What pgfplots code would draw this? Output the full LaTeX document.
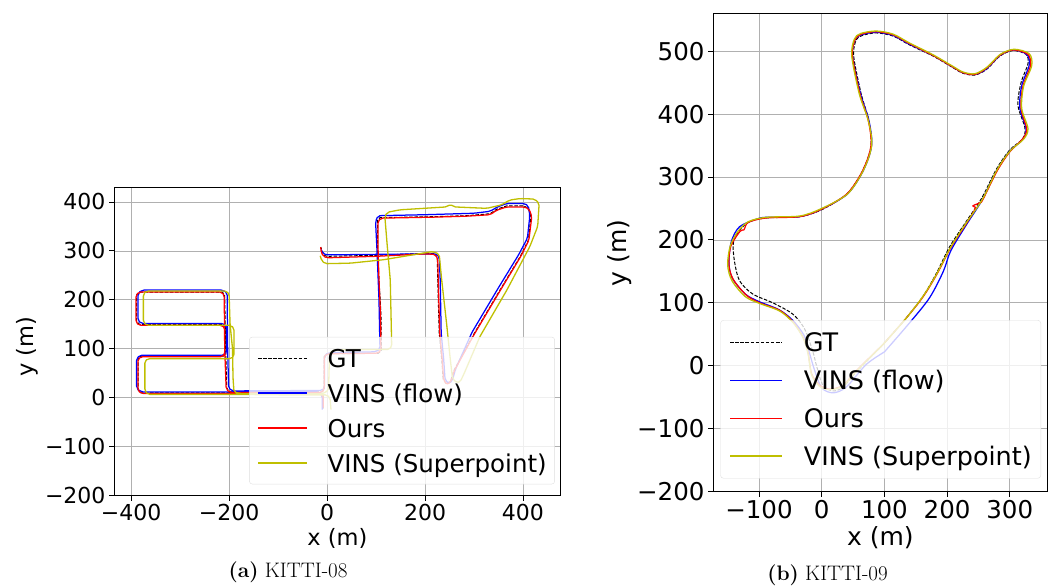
\documentclass[border=0pt]{standalone}
\usepackage{fontspec}
\newfontfamily\djv{DejaVu Sans}
\usepackage{pgfplots}
\pgfplotsset{compat=1.18}
\definecolor{mplyellow}{RGB}{191,191,0}
\definecolor{gridgray}{RGB}{176,176,176}
\pgfplotsset{
  trajaxis/.style={
    scale only axis, anchor=south west, no markers,
    axis line style={black, line width=0.9bp},
    grid=major, major grid style={gridgray, line width=0.8bp},
    tick align=outside, tick pos=left,
    major tick length=5bp, tick style={black, line width=0.9bp},
    legend cell align=left,
    every axis plot/.append style={line join=round},
  },
}
\begin{document}
\begin{tikzpicture}
\path (0,0) rectangle (1054bp,587bp);
% ---------------- (a) KITTI-08 ----------------
\begin{axis}[trajaxis,
  at={(114bp,91.3bp)}, width=446.7bp, height=308.4bp,
  xmin=-435, xmax=477, ymin=-200, ymax=430,
  xtick={-400,-200,0,200,400}, xticklabels={−400,−200,0,200,400},
  ytick={-200,-100,0,100,200,300,400}, yticklabels={−200,−100,0,100,200,300,400},
  tick label style={font=\djv\fontsize{22bp}{26bp}\selectfont},
  xlabel={x (m)}, ylabel={y (m)},
  label style={font=\djv\fontsize{22.5bp}{27bp}\selectfont},
  xlabel style={at={(axis description cs:0.5,-0.137)}, anchor=center},
  ylabel style={at={(axis description cs:-0.195,0.483)}, anchor=center},
  legend image code/.code={\draw[#1] (0bp,0bp) -- (49bp,0bp);},
  legend style={at={(0.987,0.037)}, anchor=south east,
    font=\djv\fontsize{24.5bp}{28bp}\selectfont,
    draw=gray!25, fill=white, fill opacity=0.8, text opacity=1,
    rounded corners=3bp, inner xsep=8bp, inner ysep=12bp, row sep=17bp,
    nodes={inner sep=0pt, text height=18bp, text depth=0bp},
    /tikz/every odd column/.append style={column sep=20bp}},
]
\addplot[color=black, line width=1bp, dash pattern=on 3.5bp off 1.6bp] coordinates {
(-8,-22) (-8,5) (-15,10) (-200,10) (-380,10) (-386,16) (-386,80) (-380,85) (-212,85) (-208,90) (-208,145) (-213,150) (-383,150) (-389,156) (-389,210) (-383,216) (-214,216) (-209,210) (-207,100) (-205,20) (-198,12) (-10,12) (-6,18) (-6,84) (0,90) (105,91) (111,97) (110,173) (106,241) (103,309) (103,362) (108,368) (217,370) (285,372) (333,376) (346,385) (367,392) (401,392) (411,387) (416,370) (411,322) (394,288) (353,220) (299,129) (258,54) (252,33) (244,28) (237,38) (234,80) (229,132) (226,240) (225,285) (220,295) (200,295) (100,291) (0,289) (-6,291) (-11,300) (-12,307)
};
\addlegendentry{GT}
\addplot[color=blue, line width=1.25bp, rounded corners=2bp] coordinates {
(-10,-24) (-10,5) (-18,12) (-200,12) (-380,12) (-389,20) (-389,80) (-382,87) (-210,87) (-205,93) (-205,146) (-212,152) (-380,152) (-386,158) (-386,213) (-378,220) (-212,220) (-204,214) (-203,100) (-201,20) (-194,14) (-10,15) (-5,20) (-5,86) (2,92) (100,94) (108,100) (106,200) (102,300) (99,360) (104,372) (200,374) (300,377) (333,381) (348,390) (367,397) (403,397) (411,392) (414,372) (409,326) (391,292) (350,225) (296,134) (262,58) (256,36) (249,29) (241,36) (238,80) (233,132) (231,240) (229,287) (224,294) (200,294) (100,293) (0,292) (-8,294) (-12,303)
};
\addlegendentry{VINS (flow)}
\addplot[color=red, line width=1.25bp, rounded corners=2bp] coordinates {
(-8,-20) (-8,5) (-15,9) (-200,9) (-380,9) (-386,15) (-386,79) (-380,84) (-213,84) (-209,89) (-209,143) (-214,148) (-384,148) (-390,154) (-390,210) (-384,216) (-215,216) (-210,210) (-209,100) (-206,18) (-199,11) (-10,11) (-6,17) (-6,84) (0,90) (104,91) (110,97) (109,173) (106,241) (104,309) (104,361) (110,367) (217,369) (285,371) (333,374) (346,383) (367,390) (403,390) (413,385) (418,370) (412,322) (395,288) (354,220) (300,129) (259,54) (253,33) (245,27) (238,36) (235,80) (230,132) (227,240) (226,284) (221,293) (200,294) (100,289) (0,286) (-8,289) (-12,298) (-13,308)
};
\addlegendentry{Ours}
\addplot[color=mplyellow, line width=1.3bp, rounded corners=2bp] coordinates {
(8,-24) (6,0) (0,6) (-100,6) (-190,7) (-366,7) (-372,14) (-372,75) (-366,80) (-195,80) (-190,85) (-190,142) (-196,148) (-368,148) (-375,154) (-375,212) (-369,218) (-205,218) (-200,212) (-198,150) (-193,100) (-192,40) (-190,12) (-180,9) (-10,8) (3,15) (5,90) (12,98) (128,99) (132,105) (129,241) (123,309) (118,370) (123,379) (149,384) (245,390) (252,396) (258,390) (326,387) (356,394) (373,404) (394,407) (424,406) (433,397) (430,350) (414,309) (367,220) (312,125) (280,50) (272,33) (265,30) (256,40) (251,84) (244,152) (234,241) (229,293) (217,299) (115,282) (47,275) (-4,274) (-11,280) (-14,290)
};
\addlegendentry{VINS (Superpoint)}
\end{axis}
% ---------------- (b) KITTI-09 ----------------
\begin{axis}[trajaxis,
  at={(713bp,95.4bp)}, width=334.7bp, height=478.5bp,
  xmin=-173.4, xmax=360.5, ymin=-200, ymax=560.5,
  xtick={-100,0,100,200,300}, xticklabels={−100,0,100,200,300},
  ytick={-200,-100,0,100,200,300,400,500}, yticklabels={−200,−100,0,100,200,300,400,500},
  tick label style={font=\djv\fontsize{24.5bp}{29bp}\selectfont},
  xlabel={x (m)}, ylabel={y (m)},
  label style={font=\djv\fontsize{25bp}{30bp}\selectfont},
  xlabel style={at={(axis description cs:0.5,-0.097)}, anchor=center},
  ylabel style={at={(axis description cs:-0.278,0.4986)}, anchor=center},
  legend image code/.code={\draw[#1] (0bp,0bp) -- (52bp,0bp);},
  legend style={at={(0.980,0.0274)}, anchor=south east,
    font=\djv\fontsize{25.5bp}{30bp}\selectfont,
    draw=gray!25, fill=white, fill opacity=0.8, text opacity=1,
    rounded corners=3bp, inner xsep=9bp, inner ysep=13bp, row sep=19.2bp,
    nodes={inner sep=0pt, text height=18.6bp, text depth=0bp},
    /tikz/every odd column/.append style={column sep=21bp}},
]
\addplot[color=black, line width=1bp, dash pattern=on 3.5bp off 1.6bp, smooth, tension=0.5] coordinates {
(98,34) (135,76) (162,111) (183,147) (204,189) (231,230) (255,266) (279,313) (300,343) (321,361) (324,379) (313,414) (318,450) (329,480) (326,495) (305,501) (284,492) (263,471) (244,462) (225,465) (209,474) (178,492) (140,510) (114,524) (87,529) (65,525) (55,518) (51,492) (63,432) (75,391) (79,355) (74,331) (61,302) (39,272) (0,248) (-35,237) (-88,235) (-115,229) (-131,215) (-141,195) (-139,165) (-131,135) (-110,114) (-78,100) (-46,82) (-27,58) (-14,22) (-8,-1) (2,-31) (18,-40) (34,-34) (55,-10) (98,34)
};
\addlegendentry{GT}
\addplot[color=blue, line width=1.25bp, smooth, tension=0.5] coordinates {
(100,22) (140,68) (172,108) (194,150) (206,183) (232,226) (255,262) (279,310) (300,341) (321,360) (326,377) (316,410) (319,445) (331,478) (327,495) (305,502) (284,493) (263,472) (244,463) (225,466) (209,475) (178,493) (140,511) (114,525) (87,530) (63,526) (53,518) (49,492) (62,432) (75,391) (80,356) (75,331) (62,302) (40,272) (0,249) (-35,237) (-88,236) (-104,233) (-131,221) (-144,198) (-148,165) (-143,140) (-122,114) (-100,102) (-68,89) (-46,72) (-28,48) (-20,22) (-12,-5) (0,-35) (18,-43) (39,-34) (71,2) (100,22)
};
\addlegendentry{VINS (flow)}
\addplot[color=red, line width=1.25bp, smooth, tension=0.5] coordinates {
(98,34) (135,76) (162,110) (184,146) (206,188) (232,228) (245,250) (241,254) (252,259) (257,264) (280,310) (300,340) (320,360) (327,376) (318,409) (321,444) (333,477) (329,495) (306,502) (285,494) (263,473) (244,463) (225,466) (209,475) (178,493) (140,512) (114,526) (87,531) (63,527) (53,518) (49,492) (61,432) (74,391) (79,356) (74,331) (61,302) (39,272) (0,249) (-35,237) (-88,235) (-117,228) (-124,216) (-130,214) (-145,190) (-148,160) (-141,137) (-120,112) (-99,100) (-67,88) (-46,70) (-30,46) (-22,22) (-16,-13) (-3,-31) (13,-37) (34,-31) (55,-8) (98,34)
};
\addlegendentry{Ours}
\addplot[color=mplyellow, line width=1.3bp, smooth, tension=0.5] coordinates {
(98,34) (135,76) (162,111) (184,147) (206,189) (232,229) (256,264) (280,312) (301,342) (322,360) (329,377) (319,409) (322,444) (335,477) (331,496) (307,503) (285,495) (263,474) (244,464) (225,467) (209,476) (178,494) (140,513) (114,527) (87,532) (62,528) (52,519) (48,492) (60,432) (74,391) (80,356) (75,331) (62,302) (40,272) (0,250) (-35,238) (-88,236) (-117,229) (-134,213) (-146,190) (-150,160) (-143,135) (-122,110) (-99,99) (-67,87) (-46,69) (-30,45) (-22,20) (-16,-15) (-3,-33) (13,-38) (34,-32) (55,-9) (98,34)
};
\addlegendentry{VINS (Superpoint)}
\end{axis}
\node[font=\fontsize{21bp}{24bp}\selectfont] at (288bp,15bp) {\textbf{(a)} KITTI-08};
\node[font=\fontsize{21bp}{24bp}\selectfont] at (827.5bp,12bp) {\textbf{(b)} KITTI-09};
\pgfresetboundingbox
\path[use as bounding box] (0,0) rectangle (1054bp,587bp);
\end{tikzpicture}
\end{document}
